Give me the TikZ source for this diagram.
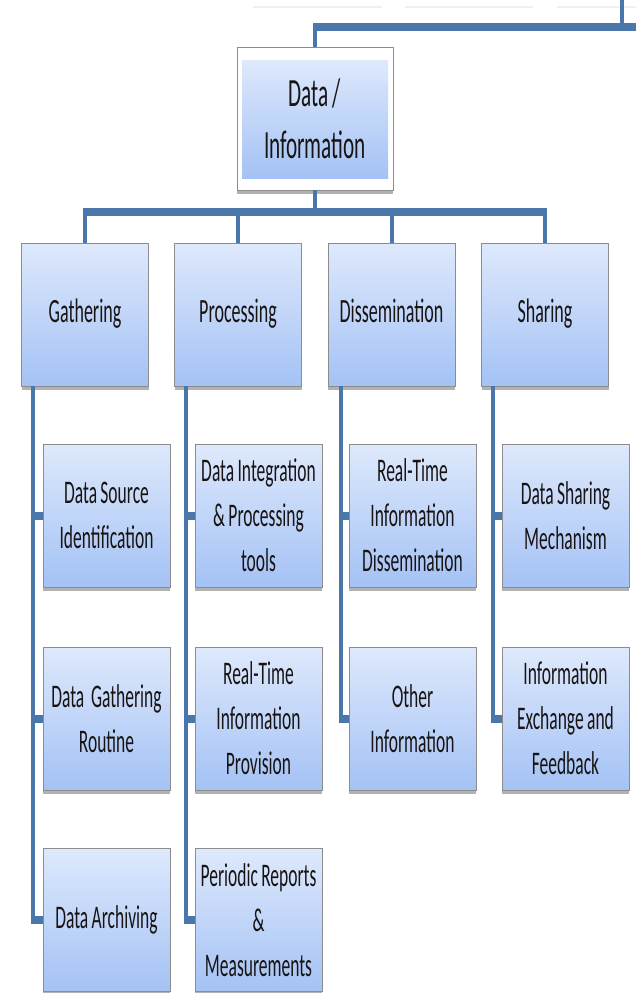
\documentclass[tikz,border=0pt]{standalone}
\usepackage{fontspec}
\setmainfont{Carlito}
\newfontfamily\boxfont[FakeStretch=0.53,WordSpace=0.85]{Carlito}
\usetikzlibrary{shadows}
\definecolor{linkblue}{RGB}{74,118,170}
\definecolor{boxtop}{RGB}{222,233,252}
\definecolor{boxbot}{RGB}{164,194,245}
\definecolor{boxedge}{RGB}{140,140,140}
\definecolor{txt}{RGB}{25,20,20}
\tikzset{
  basebox/.style={draw=boxedge, line width=0.8pt, top color=boxtop, bottom color=boxbot,
    text=txt, align=center, inner sep=2pt,
    drop shadow={shadow xshift=0pt, shadow yshift=-4pt, fill=black, opacity=0.3}},
  lonebox/.style={basebox, minimum width=127pt, minimum height=143pt,
    text height=24pt, text depth=8pt,
    font=\boxfont\fontsize{34}{44}\selectfont},
  kidbox/.style={basebox, minimum width=127pt, minimum height=143pt,
    font=\boxfont\fontsize{33}{45}\selectfont},
  outerbox/.style={draw=boxedge, line width=0.8pt, fill=white, minimum width=156pt, minimum height=143pt,
    drop shadow={shadow xshift=0pt, shadow yshift=-4pt, fill=black, opacity=0.3}},
  topbox/.style={top color=boxtop, bottom color=boxbot, minimum width=146pt, minimum height=118pt,
    text=txt, align=center, font=\boxfont\fontsize{40}{52}\selectfont},
  hline/.style={draw=linkblue, line width=8pt},
  vline/.style={draw=linkblue, line width=4pt},
  faint/.style={draw=gray!12, line width=2pt}
}
\begin{document}
\begin{tikzpicture}[x=1pt,y=-1pt]
\useasboundingbox (0,0) rectangle (636,993);

% faint remnants at top
\draw[faint] (253,7) -- (382,7);
\draw[faint] (405,7) -- (533,7);
\draw[faint] (557,7) -- (636,7);

% top box
\node[outerbox] (dataout) at (315,118.5) {};
\node[topbox] (data) at (315,119) {Data /\\Information};

% level 1
\node[lonebox] (g) at (85,314.5) {Gathering};
\node[lonebox] (p) at (238,314.5) {Processing};
\node[lonebox] (d) at (391.5,314.5) {Dissemination};
\node[lonebox] (s) at (545,314.5) {Sharing};

% children
\node[kidbox] (g1) at (106.5,515.5) {Data Source\\Identification};
\node[kidbox] (g2) at (106.5,718.5) {Data~~Gathering\\Routine};
\node[kidbox] (g3) at (106.5,920) {Data Archiving};

\node[kidbox] (p1) at (258.5,515.5) {Data Integration\\\& Processing\\tools};
\node[kidbox] (p2) at (258.5,718.5) {Real-Time\\Information\\Provision};
\node[kidbox] (p3) at (258.5,920) {Periodic Reports\\\&\\Measurements};

\node[kidbox] (d1) at (412.5,515.5) {Real-Time\\Information\\Dissemination};
\node[kidbox] (d2) at (412.5,718.5) {Other\\Information};

\node[kidbox] (s1) at (565.5,515.5) {Data Sharing\\Mechanism};
\node[kidbox] (s2) at (565.5,718.5) {Information\\Exchange and\\Feedback};

% connector up to the parent (off picture)
\coordinate (topbus) at (622,27);
\coordinate (topend) at (622,0);
\draw[vline, shorten >=-4pt] (dataout.north) -- (dataout.north |- topbus);
\draw[hline] ([xshift=-2pt]dataout.north |- topbus) -- ([xshift=20pt]topbus);
\draw[vline, shorten <=-4pt] (topbus) -- (topend);

% bus below data box
\coordinate (bus) at (0,212);
\draw[vline, shorten >=-4pt] (dataout.south) -- (dataout.south |- bus);
\draw[hline] ([xshift=-2pt]g.north |- bus) -- ([xshift=2pt]s.north |- bus);
\foreach \nd in {g,p,d,s}{
  \draw[vline, shorten <=-4pt] (\nd.north |- bus) -- (\nd.north);
}

% child connectors
\foreach \pa/\lst/\off in {g/g3/12pt, p/p3/12pt, d/d2/13pt, s/s2/12pt}{
  \draw[vline, shorten >=-4pt] ([xshift=\off]\pa.south west) -- ([xshift=\off]\pa.south west |- \lst.west);
}
\foreach \pa/\kid/\off in {g/g1/12pt, g/g2/12pt, g/g3/12pt, p/p1/12pt, p/p2/12pt, p/p3/12pt,
                          d/d1/13pt, d/d2/13pt, s/s1/12pt, s/s2/12pt}{
  \draw[hline] ([xshift=\off-2pt]\pa.south west |- \kid.west) -- (\kid.west);
}
\end{tikzpicture}
\end{document}
